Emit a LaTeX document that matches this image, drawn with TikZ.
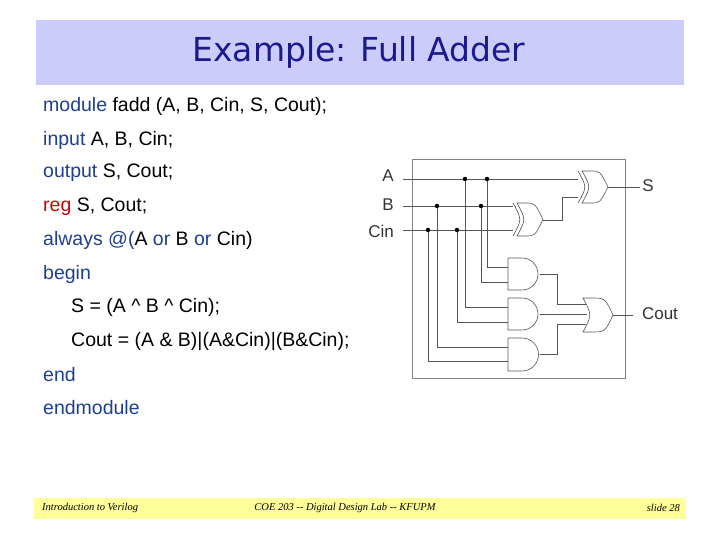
\documentclass[tikz,border=0pt]{standalone}
\usepackage{fontspec}
\setmainfont{Liberation Sans}
\newfontfamily\titlefont{DejaVu Sans}
\newfontfamily\footfont{Liberation Serif}
\definecolor{band}{HTML}{CCCCFA}
\definecolor{navy}{HTML}{1A1A8C}
\definecolor{kw}{HTML}{1F3F8F}
\definecolor{foot}{HTML}{FFFF99}
\definecolor{wire}{HTML}{555555}
\newcommand\kw[1]{\textcolor{kw}{#1}}
\newcommand\mkand[3]{% x0, top, bottom
  \pgfmathsetmacro\rr{(#3-#2)/2}\pgfmathsetmacro\cc{(#3+#2)/2}\pgfmathsetmacro\xm{#1+14}
  \draw[gate] (#1,#2) -- (\xm,#2) .. controls ({\xm+0.552*\rr},#2) and ({\xm+\rr},{\cc-0.552*\rr}) .. ({\xm+\rr},\cc)
   .. controls ({\xm+\rr},{\cc+0.552*\rr}) and ({\xm+0.552*\rr},#3) .. (\xm,#3) -- (#1,#3) -- cycle;}
\newcommand\mkor[4]{% x0, top, bottom, xtip
  \pgfmathsetmacro\cc{(#3+#2)/2}
  \draw[gate] (#1,#2) -- ({#1+8},#2) .. controls ({#4-8},#2) .. (#4,\cc) .. controls ({#4-8},#3) .. ({#1+8},#3) -- (#1,#3)
   .. controls ({#1+9},\cc) .. (#1,#2) -- cycle;}
\newcommand\mkxor[4]{\mkor{#1}{#2}{#3}{#4}\pgfmathsetmacro\cc{(#3+#2)/2}
  \draw[gate] ({#1-4},#3) .. controls ({#1+5},\cc) .. ({#1-4},#2);}
\begin{document}
\begin{tikzpicture}[x=1pt,y=-1pt,
  gate/.style={draw=wire,line width=0.6pt,fill=white},
  wr/.style={draw=wire,line width=0.6pt},
  dot/.style={circle,fill=black,inner sep=0pt,minimum size=4.5pt},
  code/.style={anchor=west,font=\fontsize{19.5}{22}\selectfont,inner sep=0pt},
  lab/.style={font=\fontsize{17}{19}\selectfont,inner sep=0pt,text=black!80},
  ft/.style={font=\footfont\itshape\fontsize{10.5}{12}\selectfont,inner sep=0pt}]
\useasboundingbox (0,0) rectangle (720,540);
\fill[white] (0,0) rectangle (720,540);
\fill[band] (36,20) rectangle (684,85);
\node (title) at (359,52) {\titlefont\fontsize{33}{38}\selectfont\color{navy}Example: Full Adder};
\node[code] (l1) at (43,106) {\kw{module} fadd (A, B, Cin, S, Cout);};
\node[code] (l2) at (43,140) {\kw{input} A, B, Cin;};
\node[code] (l3) at (43,173) {\kw{output} S, Cout;};
\node[code] (l4) at (43,207) {\textcolor{red!80!black}{reg} S, Cout;};
\node[code] (l5) at (43,240) {\kw{always} \kw{@(}A \kw{or} B \kw{or} Cin)};
\node[code] (l6) at (43,274) {\kw{begin}};
\node[code] (l7) at (71,307) {S = (A \textasciicircum{} B \textasciicircum{} Cin);};
\node[code] (l8) at (71,341) {Cout = (A \& B)|(A\&Cin)|(B\&Cin);};
\node[code] (l9) at (43,375) {\kw{end}};
\node[code] (l10) at (43,408) {\kw{endmodule}};
% circuit
\draw[draw=black!50,line width=0.8pt] (412,159) rectangle (625,378);
\node[lab] (la) at (388,176) {A};
\node[lab] (lb) at (388,205) {B};
\node[lab] (lc) at (381,231) {Cin};
\node[lab] (ls) at (648,186) {S};
\node[lab] (lco) at (660,314) {Cout};
% wires
\draw[wr] (403,179) -- (582,179);
\draw[wr] (403,206) -- (516,206);
\draw[wr] (403,230) -- (516,230);
\draw[wr] (543,220) -- (562,220) -- (562,197) -- (582,197);
\draw[wr] (608,187) -- (640,187);
\draw[wr] (487,179) |- (508,267);
\draw[wr] (481,206) |- (508,282);
\draw[wr] (465,179) |- (508,307);
\draw[wr] (457,230) |- (508,322);
\draw[wr] (437,206) |- (508,347);
\draw[wr] (428,230) |- (508,361);
\draw[wr] (540,274) -- (557,274) -- (557,304) -- (586,304);
\draw[wr] (540,314) -- (587,314);
\draw[wr] (540,354) -- (557,354) -- (557,324) -- (586,324);
\draw[wr] (613,315) -- (633,315);
% gates
\mkxor{517}{203}{236}{543}
\mkxor{582}{171}{203}{608}
\mkand{508}{258}{290}
\mkand{508}{298}{330}
\mkand{508}{338}{371}
\mkor{583}{298}{332}{613}
\foreach \n/\x/\y in {a1/465/179,a2/487/179,b1/437/206,b2/481/206,c1/428/230,c2/457/230}
  \node[dot] (\n) at (\x,\y) {};
% footer
\fill[foot] (34,498) rectangle (686,519);
\node[ft,anchor=west] (f1) at (42,508) {Introduction to Verilog};
\node[ft] (f2) at (345,508) {COE 203 -- Digital Design Lab -- KFUPM};
\node[ft,anchor=east] (f3) at (680,508) {slide 28};
\end{tikzpicture}
\end{document}
